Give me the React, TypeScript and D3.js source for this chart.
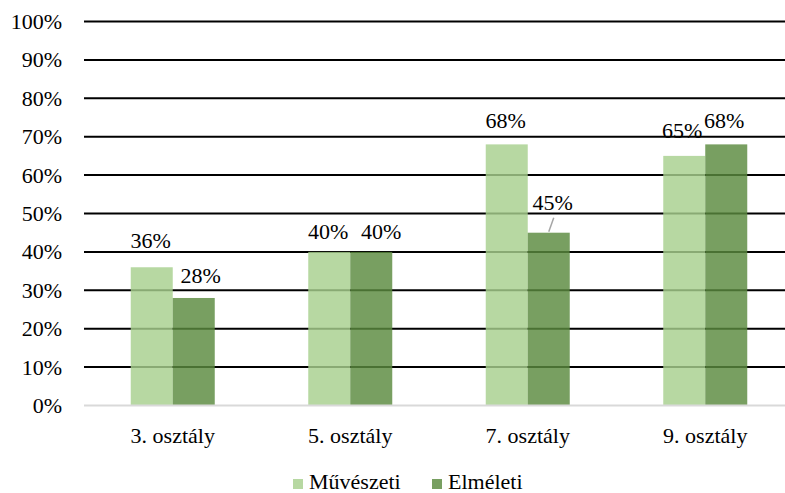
import React from "react";
import * as d3 from "d3";

const categories = ["3. osztály", "5. osztály", "7. osztály", "9. osztály"];
const seriesNames = ["Művészeti", "Elméleti"];
const muveszeti = [36, 40, 68, 65];
const elmeleti = [28, 40, 45, 68];
const yTicks = [0, 10, 20, 30, 40, 50, 60, 70, 80, 90, 100];

const W = 785;
const H = 493;
const FONT = '"Liberation Serif", "Times New Roman", Times, serif';
const colors = ["#a7cf8e", "#5a8a3e"];
const barOpacity = 0.82;

// label offsets (dx, dy) relative to the bar top centre, per series / category
const labelOffsets: [number, number][][] = [
  [[-1, -19], [-1, -13], [-1, -16], [-2, -18]],
  [[7, -15], [10, -13], [4, -23], [-2, -16]],
];

export default function App() {
  const x0 = d3.scaleBand<string>().domain(categories).range([84, 794]).paddingInner(0).paddingOuter(0);
  const groupW = 84;
  const x1 = d3
    .scaleBand<string>()
    .domain(seriesNames)
    .range([(x0.bandwidth() - groupW) / 2, (x0.bandwidth() + groupW) / 2]);
  const y = d3.scaleLinear().domain([0, 100]).range([405.5, 21.5]);
  const series = [muveszeti, elmeleti];
  const plotRight = 785;
  const barCx = (si: number, ci: number) =>
    (x0(categories[ci]) as number) + (x1(seriesNames[si]) as number) + x1.bandwidth() / 2;

  return (
    <svg
      width={W}
      height={H}
      style={{ position: "absolute", left: 0, top: 0, background: "#fff", fontFamily: FONT }}
    >
      {/* value labels (gridlines are painted over them) */}
      {series.map((vals, si) =>
        vals.map((v, ci) => {
          const [dx, dy] = labelOffsets[si][ci];
          return (
            <text
              key={"vl" + si + "-" + ci}
              x={barCx(si, ci) + dx}
              y={y(v) + dy}
              textAnchor="middle"
              fontSize={22}
              fill="#000"
            >
              {v}%
            </text>
          );
        })
      )}
      {/* gridlines */}
      {yTicks.map((t) =>
        t === 0 ? null : (
          <line key={t} x1={84} x2={plotRight} y1={y(t)} y2={y(t)} stroke="#000" strokeWidth={2} />
        )
      )}
      {/* y tick labels */}
      {yTicks.map((t) => (
        <text key={"yl" + t} x={62} y={y(t) + 7.5} textAnchor="end" fontSize={22} fill="#000">
          {t}%
        </text>
      ))}
      {/* bars */}
      {series.map((vals, si) =>
        vals.map((v, ci) => (
          <rect
            key={si + "-" + ci}
            x={(x0(categories[ci]) as number) + (x1(seriesNames[si]) as number)}
            y={y(v)}
            width={x1.bandwidth()}
            height={y(0) - y(v)}
            fill={colors[si]}
            fillOpacity={barOpacity}
          />
        ))
      )}
      {/* baseline */}
      <line x1={84} x2={plotRight} y1={y(0)} y2={y(0)} stroke="#d9d9d9" strokeWidth={2} />
      {/* leader line for the 45% label */}
      <line
        x1={barCx(1, 2) + 5}
        y1={y(elmeleti[2]) - 15}
        x2={barCx(1, 2)}
        y2={y(elmeleti[2]) - 1}
        stroke="#a6a6a6"
        strokeWidth={1.5}
      />
      {/* category labels */}
      {categories.map((c) => (
        <text
          key={c}
          x={(x0(c) as number) + x0.bandwidth() / 2}
          y={443}
          textAnchor="middle"
          fontSize={22}
          fill="#000"
        >
          {c}
        </text>
      ))}
      {/* legend */}
      {seriesNames.map((s, i) => {
        const lx = i === 0 ? 293 : 432;
        return (
          <g key={s}>
            <rect x={lx} y={479} width={10} height={10} fill={colors[i]} fillOpacity={barOpacity} />
            <text x={lx + 16} y={489} fontSize={22} fill="#000">
              {s}
            </text>
          </g>
        );
      })}
    </svg>
  );
}
